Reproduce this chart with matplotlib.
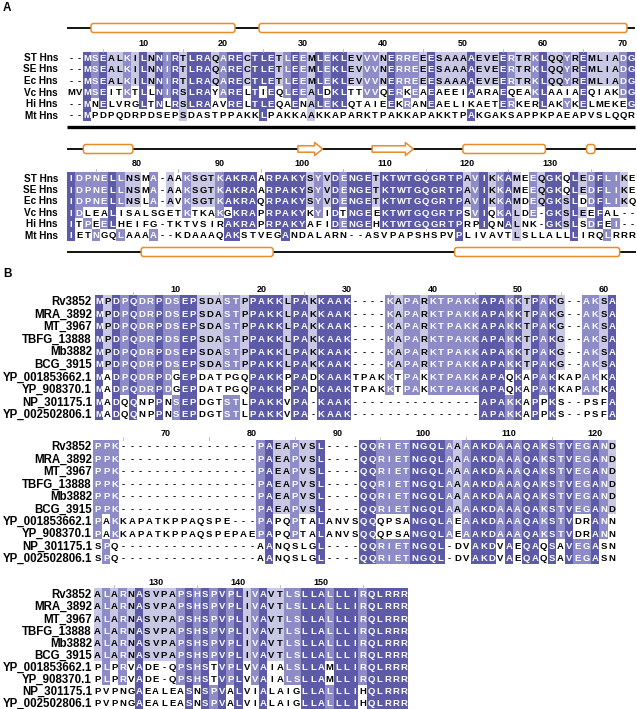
import numpy as np
import matplotlib
matplotlib.use("Agg")
import matplotlib.pyplot as plt
from matplotlib.patches import Rectangle, FancyBboxPatch, Polygon
from collections import Counter

plt.rcParams['font.family'] = ['Liberation Sans', 'DejaVu Sans']

# panel A: H-NS of enterobacteria vs M. tuberculosis
a_names = ["ST Hns", "SE Hns", "Ec Hns", "Vc Hns", "Hi Hns", "Mt Hns"]
a_block1 = [
    "--MSEALKILNNIRTLRAQARECTLETLEEMLEKLEVVVNERREEESAAAAEVEERTRKLQQYREMLIADG",
    "--MSEALKILNNIRTLRAQARECTLETLEEMLEKLEVVVNERREEESAAAAEVEERTRKLQQYREMLIADG",
    "--MSEALKILNNIRTLRAQARECTLETLEEMLEKLEVVVNERREEESAAAAEVEERTRKLQQYREMLIADG",
    "MVMSEITKTLLNIRSLRAYARELTIEQLEEALDKLTTVVQERKEAEAEEIAARAEQEAKLAAIAEQIAKDG",
    "--MNELVRGLTNLRSLRAAVRELTLEQAENALEKLQTAIEEKRANEAELIKAETERKERLAKYKELMEKEG",
    "--MPDPQDRPDSEPSDASTPPAKKLPAKKAAKKAPARKTPAKKAPAKKTPAKGAKSAPPKPAEAPVSLQQR",
]
a_block2 = [
    "IDPNELLNSMA-AAKSGTKAKRAARPAKYSYVDENGETKTWTGQGRTPAVIKKAMEEQGKQLEDFLIKE",
    "IDPNELLNSMA-AAKSGTKAKRAARPAKYSYVDENGETKTWTGQGRTPAVIKKAMEEQGKQLEDFLIKE",
    "IDPNELLNSLA-AVKSGTKAKRAQRPAKYSYVDENGETKTWTGQGRTPAVIKKAMDEQGKSLDDFLIKQ",
    "IDLEALISALSGETKTKAKGKRAPRPAKYKYIDTNGEEKTWTGQGRTPSVIQKALDE-GKSLEEFAL--",
    "ITPEELHEIFG-TKTVSIRAKRAPRPAKYAFIDENGEHKTWTGQGRTPRPIQNALNK-GKSLSDFEI--",
    "IETNGQLAAAA--KDAAAQAKSTVEGANDALARN--ASVPAPSHSPVPLIVAVTLSLLALLLIRQLRRR",
]
a_start = [1, 72]

# secondary structure (alignment columns)
a_top1_helix = [(4, 21), (25, 70)]
a_top2_helix = [(74, 79), (120, 129), (135, 135)]
a_top2_strand = [(100, 102), (109, 113)]
a_bot2_helix = [(81, 96), (119, 138)]

# panel B: mycobacterial orthologues
b_names = ["Rv3852", "MRA_3892", "MT_3967", "TBFG_13888", "Mb3882", "BCG_3915",
           "YP_001853662.1", "YP_908370.1", "NP_301175.1", "YP_002502806.1"]
mtb1 = "MPDPQDRPDSEPSDASTPPAKKLPAKKAAK----KAPARKTPAKKAPAKKTPAKG--AKSA"
mtb2 = "PPK----------------PAEAPVSL----QQRIETNGQLAAAAKDAAAQAKSTVEGAND"
mtb3 = "ALARNASVPAPSHSPVPLIVAVTLSLLALLLIRQLRRR"
b_block1 = [mtb1] * 6 + [
    "MADPQDRPDGEPDATPGQPAKKPPADKAAKTPAKKTPAKKTPAKKAPAQKAPAKKAPAKKA",
    "MADPQDRPDGEPDATPGQPAKKPPADKAAKTPAKKTPAKKTPAKKAPAQKAPAKKAPAKKA",
    "MADQQNPPNSEPDGTSTLPAKKVPA-KAAK---------------APAKKAPPKS--PSFA",
    "MADQQNPPNSEPDGTSTLPAKKVPA-KAAK---------------APAKKAPPKS--PSFA",
]
b_block2 = [mtb2] * 6 + [
    "PAKKAPATKPPAQSPE---PAPQPTALANVSQQQPSANGQLAEAAKDAAAQAKSTVDRANN",
    "PAKKAPATKPPAQSPEPAEPAPQPTALANVSQQQPSANGQLAEAAKDAAAQAKSTVDRANN",
    "SPQ----------------AANQSLGL----QQRIETNGQL-DVAKDVAEQAQSAVEGASN",
    "SPQ----------------AANQSLGL----QQRIETNGQL-DVAKDVAEQAQSAVEGASN",
]
b_block3 = [mtb3] * 6 + [
    "PLPRVADE-QPSHSTVPLVVAIALSLLAMLLIRQLRRR",
    "PLPRVADE-QPSHSTVPLVVAIALSLLAMLLIRQLRRR",
    "PVPNGAEALEASNSPVALVIALAIGLLALLLIHQLRRR",
    "PVPNGAEALEASNSPVALVIALAIGLLALLLIHQLRRR",
]
b_start = [1, 62, 123]

DARK = '#5D5BA7'
MID = '#8E8CC7'
LIGHT = '#C9C8E4'
ORANGE = '#E98B2A'
SEQ_FS = 6.8
PX = 100 / 72.0


def shade(seqs):
    # percent identity to consensus (>80, >60, >40)
    n = len(seqs)
    out = []
    for col in zip(*seqs):
        cnt = Counter(col)
        top = max(cnt.values())
        best = {c for c, v in cnt.items() if v == top and c != '-'}
        pct = 100.0 * top / n
        if pct > 80:
            c = DARK
        elif pct > 60:
            c = MID
        elif pct > 40:
            c = LIGHT
        else:
            c = None
        out.append((best, c))
    return out


def draw_block(ax, names, seqs, start, x0, x1, y0, rh, ruler_y, label_x, label_fs):
    ncol = len(seqs[0])
    cw = (x1 - x0) / (ncol - 1)
    xs = x0 + cw * np.arange(ncol)
    cons = shade(seqs)
    off = 0.716 * SEQ_FS * PX / 2
    for r, (name, seq) in enumerate(zip(names, seqs)):
        y = y0 + r * rh
        ax.text(label_x, y + 0.716 * label_fs * PX / 2, name, ha='right', va='baseline',
                fontsize=label_fs, fontweight='bold', zorder=0)
        for j, ch in enumerate(seq):
            best, col = cons[j]
            tc = 'black'
            if col is not None and ch in best:
                ax.add_patch(Rectangle((xs[j] - cw / 2, y - rh / 2), cw, rh,
                                       fc=col, ec='none', zorder=1))
                if col != LIGHT:
                    tc = 'white'
            ax.text(xs[j], y + off, ch, ha='center', va='baseline', fontsize=SEQ_FS,
                    fontweight='bold', color=tc, zorder=2)
    # ruler: numbers every 10, small ticks at the fives, nothing on the last column
    for j in range(ncol - 1):
        k = start + j
        if k % 10 == 0:
            ax.text(xs[j], ruler_y + 0.716 * 6.5 * PX / 2, str(k), ha='center',
                    va='baseline', fontsize=6.5, fontweight='bold')
        elif k % 5 == 0:
            ax.plot([xs[j], xs[j]], [y0 - rh / 2 - 3, y0 - rh / 2], color='#b5b5b5', lw=0.6)
    return xs, cw


def draw_track(ax, xs, cw, start, y, helices, strands, lw):
    ax.plot([xs[0] - cw / 2, xs[-1] + cw / 2], [y, y], color='black', lw=lw,
            solid_capstyle='butt', zorder=2)
    for a, b in helices:
        left = xs[a - start] - cw / 2
        right = xs[b - start] + cw / 2
        ax.add_patch(FancyBboxPatch((left, y - 4.5), right - left, 9,
                                    boxstyle='round,pad=0,rounding_size=2.5',
                                    fc='white', ec=ORANGE, lw=1.1, zorder=3))
    for a, b in strands:
        left = xs[a - start] - cw / 2
        right = xs[b - start] + cw / 2
        hl = 8
        pts = [(left, y - 3.2), (right - hl, y - 3.2), (right - hl, y - 6.5), (right, y),
               (right - hl, y + 6.5), (right - hl, y + 3.2), (left, y + 3.2)]
        ax.add_patch(Polygon(pts, closed=True, fc='white', ec=ORANGE, lw=1.1,
                             joinstyle='round', zorder=3))


fig = plt.figure(figsize=(6.37, 7.09), dpi=100)
ax = fig.add_axes([0, 0, 1, 1])
ax.set_xlim(0, 637)
ax.set_ylim(709, 0)
ax.axis('off')

ax.text(3, 11, "A", fontsize=8.5, fontweight='bold')
ax.text(3, 277, "B", fontsize=8.5, fontweight='bold')

# panel A
xs, cw = draw_block(ax, a_names, a_block1, a_start[0], 71, 631, 57.3, 11.55, 43, 58, 7.2)
draw_track(ax, xs, cw, a_start[0], 28, a_top1_helix, [], 1.3)
draw_track(ax, xs, cw, a_start[0], 127, [], [], 2.4)

xs, cw = draw_block(ax, a_names, a_block2, a_start[1], 71, 632, 178, 11.4, 163, 58, 7.2)
draw_track(ax, xs, cw, a_start[1], 149, a_top2_helix, a_top2_strand, 1.3)
draw_track(ax, xs, cw, a_start[1], 252, a_bot2_helix, [], 1.3)

# panel B
draw_block(ax, b_names, b_block1, b_start[0], 99, 612, 301, 12.55, 289, 92, 8.3)
draw_block(ax, b_names, b_block2, b_start[1], 97.5, 612, 446, 12.45, 433, 92, 8.3)
draw_block(ax, b_names, b_block3, b_start[2], 97.7, 404, 594, 12.1, 582, 92, 8.3)

fig.savefig("out.png", dpi=100)
